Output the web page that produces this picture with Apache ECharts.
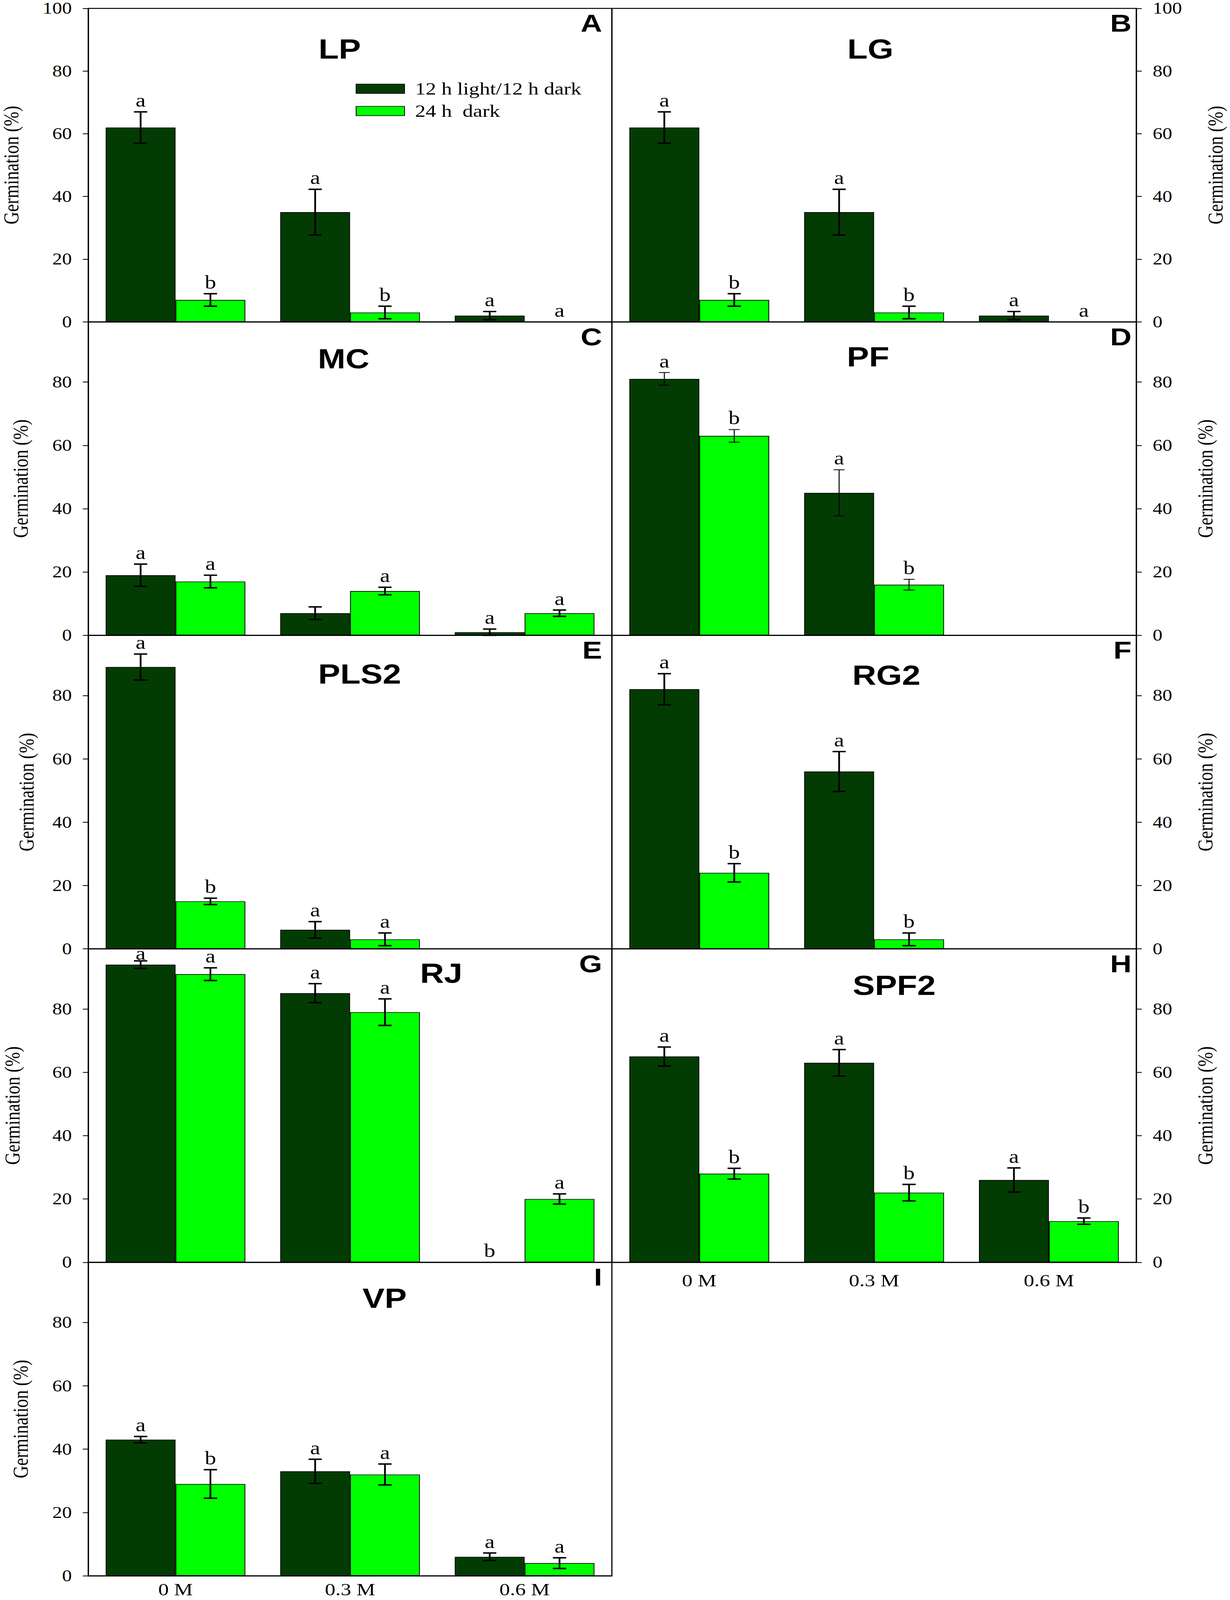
<!DOCTYPE html>
<html>
<head>
<meta charset="utf-8">
<script src="https://cdn.jsdelivr.net/npm/echarts@6/dist/echarts.min.js"></script>
<style>
  html, body { margin: 0; padding: 0; background: #fff; overflow: hidden; }
  #chart { width: 3150px; height: 4957px; transform-origin: 0 0; }
</style>
</head>
<body>
<div id="chart"></div>
<script>
// salt levels on the x axis
const categories = ['0 M', '0.3 M', '0.6 M'];
const panelNames = ['LP', 'LG', 'MC', 'PF', 'PLS2', 'RG2', 'RJ', 'SPF2', 'VP'];
const panelLetters = ['A', 'B', 'C', 'D', 'E', 'F', 'G', 'H', 'I'];
const seriesNames = ['12 h light/12 h dark', '24 h  dark'];

// 12 h light / 12 h dark (dark green bars)
const altMeans = [[62, 35, 2], [62, 35, 2], [19, 7, 1], [81, 45, 0], [89, 6, 0],
                  [82, 56, 0], [94, 85, 0], [65, 63, 26], [43, 33, 6]];
const altSE = [[5, 7.3, 1.3], [5, 7.3, 1.3], [3.5, 2, 1], [2, 7.3, 0], [4.1, 2.6, 0],
               [4.9, 6.3, 0], [1.2, 3, 0], [3, 4.2, 3.8], [1, 3.8, 1.2]];
const altLetters = [['a', 'a', 'a'], ['a', 'a', 'a'], ['a', '', 'a'], ['a', 'a', ''], ['a', 'a', ''],
                    ['a', 'a', ''], ['a', 'a', 'b'], ['a', 'a', 'a'], ['a', 'a', 'a']];

// 24 h dark (light green bars)
const darkMeans = [[7, 3, 0], [7, 3, 0], [17, 14, 7], [63, 16, 0], [15, 3, 0],
                   [24, 3, 0], [91, 79, 20], [28, 22, 13], [29, 32, 4]];
const darkSE = [[2, 2, 0], [2, 2, 0], [2, 1.2, 1], [2, 1.7, 0], [1, 2, 0],
                [2.9, 2, 0], [2, 4.2, 1.6], [1.7, 2.6, 1], [4.5, 3.3, 1.7]];
const darkLetters = [['b', 'b', 'a'], ['b', 'b', 'a'], ['a', 'a', 'a'], ['b', 'b', ''], ['b', 'a', ''],
                     ['b', 'b', ''], ['a', 'a', 'a'], ['b', 'b', 'b'], ['b', 'a', 'a']];

// layout
const SERIF = "'Liberation Serif', 'Times New Roman', serif";
const SANS = "'Liberation Sans', Arial, sans-serif";
const DARK_GREEN = '#033c03';
const LIGHT_GREEN = '#00ff00';
const FIG_W = 3150, FIG_H = 4957;
const TOP0 = 26, PANEL_H = 971.2;
const cols = [{ left: 226, width: 1341 }, { left: 1567, width: 1343 }];
const titlePos = [[870, 126], [2229, 126], [880, 114], [2223, 108], [921, 120],
                  [2270, 124], [1130, 76], [2290, 113], [985, 111]];
const nameGaps = [170, 176, 146, 150, 131, 150, 167, 150, 146];
const thinErr = [false, false, false, true, false, false, false, false, false];

// the window may be shorter than the figure: squeeze the whole figure into it
const dom = document.getElementById('chart');
const sx = Math.min(1, window.innerWidth / FIG_W);
const sy = Math.min(1, window.innerHeight / FIG_H);
dom.style.transform = 'scale(' + sx + ',' + sy + ')';

const chart = echarts.init(dom, null, { renderer: 'svg' });

function errorRenderer(side, letters, thin) {
  return function (params, api) {
    const cat = api.value(0), mean = api.value(1), se = api.value(2);
    const band = api.size([1, 0])[0];
    const x = api.coord([cat, 0])[0] + side * band * 0.2;
    const yTop = api.coord([cat, mean + se])[1];
    const yBot = api.coord([cat, Math.max(mean - se, 0)])[1];
    const lw = thin ? 2.5 : 4.5;
    const cap = thin ? 14 : 17;
    const st = { stroke: '#000', lineWidth: lw };
    const children = [];
    if (se > 0) {
      children.push({ type: 'line', shape: { x1: x, y1: yTop, x2: x, y2: yBot }, style: st });
      children.push({ type: 'line', shape: { x1: x - cap, y1: yTop, x2: x + cap, y2: yTop }, style: st });
      children.push({ type: 'line', shape: { x1: x - cap, y1: yBot, x2: x + cap, y2: yBot }, style: st });
    }
    const letter = letters[params.dataIndex];
    if (letter) {
      // keep the letter inside the panel when the bar nearly touches the top
      const ty = Math.max(yTop - 6, params.coordSys.y + 44);
      children.push({
        type: 'text', x: x, y: ty,
        style: { text: letter, font: '58px ' + SERIF, fill: '#000', align: 'center', verticalAlign: 'bottom' }
      });
    }
    return { type: 'group', children: children };
  };
}

const grids = [], xAxes = [], yAxes = [], series = [], graphics = [];

panelNames.forEach(function (name, k) {
  const col = k % 2, row = Math.floor(k / 2);
  const top = TOP0 + row * PANEL_H;
  const showX = k === 7 || k === 8;
  grids.push({
    left: cols[col].left, width: cols[col].width, top: top, height: PANEL_H,
    show: true, borderColor: '#000', borderWidth: 3, backgroundColor: 'transparent'
  });
  xAxes.push({
    type: 'category', gridIndex: k, data: categories,
    axisLine: { lineStyle: { color: '#000', width: 3 } },
    axisTick: { alignWithLabel: true, length: 14, lineStyle: { color: '#000', width: 2.5 } },
    axisLabel: {
      show: showX, fontFamily: SERIF, fontSize: 54, color: '#000',
      margin: k === 7 ? 30 : 15
    }
  });
  yAxes.push({
    type: 'value', gridIndex: k, min: 0, max: row === 0 ? 100 : 99, interval: 20,
    position: col === 0 ? 'left' : 'right',
    name: 'Germination (%)', nameLocation: 'middle', nameGap: nameGaps[k],
    nameTextStyle: { fontFamily: SERIF, fontSize: 54, color: '#000' },
    axisLine: { show: true, lineStyle: { color: '#000', width: 3 } },
    axisTick: { show: true, length: 14, lineStyle: { color: '#000', width: 2.5 } },
    axisLabel: {
      fontFamily: SERIF, fontSize: 50, color: '#000', margin: 42,
      showMaxLabel: row === 0
    },
    splitLine: { show: false }
  });

  series.push({
    type: 'bar', name: seriesNames[0], xAxisIndex: k, yAxisIndex: k,
    data: altMeans[k], barWidth: '40%', barGap: '0%',
    itemStyle: { color: DARK_GREEN, borderColor: '#000', borderWidth: 2 },
    silent: true
  });
  series.push({
    type: 'bar', name: seriesNames[1], xAxisIndex: k, yAxisIndex: k,
    data: darkMeans[k], barWidth: '40%', barGap: '0%',
    itemStyle: { color: LIGHT_GREEN, borderColor: '#000', borderWidth: 2 },
    silent: true
  });
  series.push({
    type: 'custom', xAxisIndex: k, yAxisIndex: k, z: 5, silent: true,
    data: altMeans[k].map(function (v, i) { return [i, v, altSE[k][i]]; }),
    renderItem: errorRenderer(-1, altLetters[k], thinErr[k])
  });
  series.push({
    type: 'custom', xAxisIndex: k, yAxisIndex: k, z: 5, silent: true,
    data: darkMeans[k].map(function (v, i) { return [i, v, darkSE[k][i]]; }),
    renderItem: errorRenderer(1, darkLetters[k], thinErr[k])
  });

  graphics.push({
    type: 'text', x: titlePos[k][0], y: top + titlePos[k][1],
    style: { text: name, font: 'bold 85px ' + SANS, fill: '#000', align: 'center', verticalAlign: 'middle' }
  });
  const right = cols[col].left + cols[col].width - (col === 0 ? 25 : 12);
  graphics.push({
    type: 'text', x: right, y: top + 8,
    style: { text: panelLetters[k], font: 'bold 76px ' + SANS, fill: '#000', align: 'right', verticalAlign: 'top' }
  });
});

chart.setOption({
  backgroundColor: '#fff',
  animation: false,
  grid: grids,
  xAxis: xAxes,
  yAxis: yAxes,
  legend: {
    data: seriesNames, orient: 'vertical', left: 906, top: 243,
    itemWidth: 124, itemHeight: 29, itemGap: 15, icon: 'rect',
    textStyle: { fontFamily: SERIF, fontSize: 54, color: '#000', padding: [0, 0, 0, 22] },
    selectedMode: false
  },
  series: series,
  graphic: graphics
});
</script>
</body>
</html>
